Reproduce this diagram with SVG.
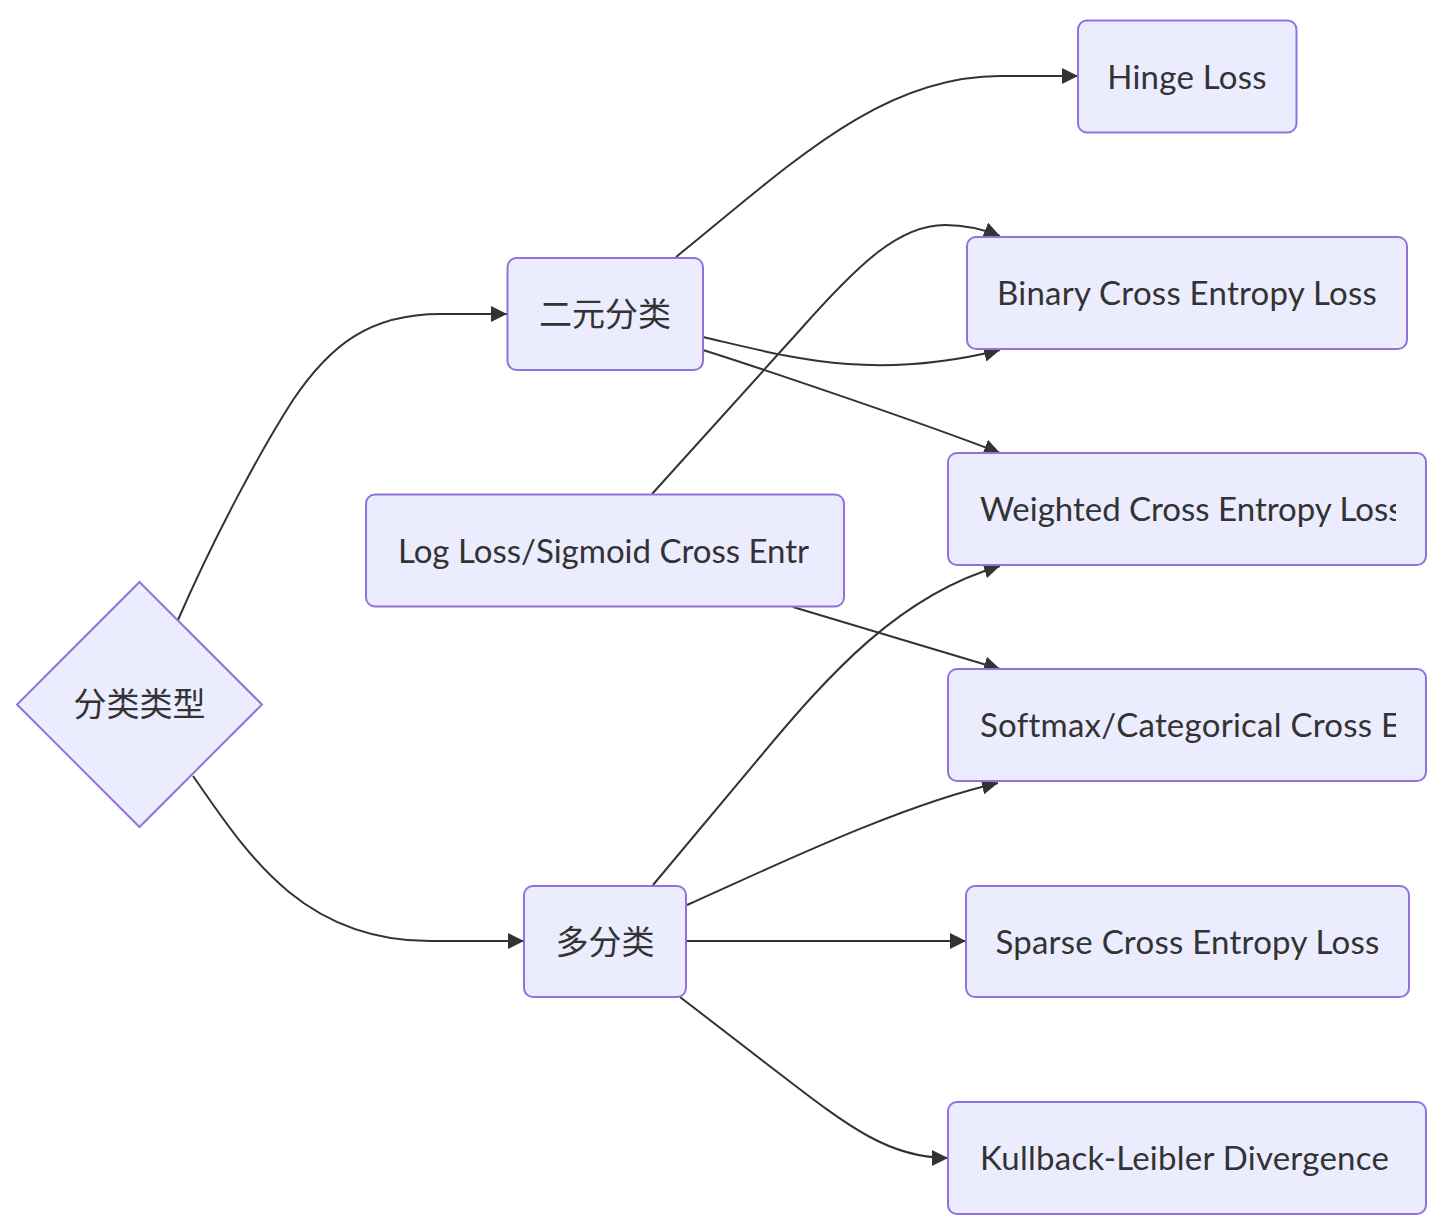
<svg xmlns="http://www.w3.org/2000/svg" width="1452" height="1232" viewBox="0 0 1452 1232">
<style>
.node rect, .node polygon { fill: #ECECFF; stroke: #9370DB; stroke-width: 2; }
.lbl { font-family: Lato, "Liberation Sans", "Noto Sans CJK SC", sans-serif; font-size: 33px; fill: #333333; letter-spacing: 0.25px; }
.cjk { font-family: "Noto Sans CJK SC", "Noto Sans", sans-serif; font-size: 33px; fill: #333333; }
.edge { fill: none; stroke: #333333; stroke-width: 2; marker-end: url(#arrow); }
</style>
<defs>
<marker id="arrow" viewBox="0 0 10 10" refX="10" refY="5" markerUnits="userSpaceOnUse" markerWidth="16" markerHeight="16" orient="auto">
<path d="M0,0 L10,5 L0,10 z" fill="#333333"/>
</marker>
<clipPath id="clipLog"><rect x="398" y="500" width="413" height="100"/></clipPath>
<clipPath id="clipW"><rect x="980" y="460" width="416" height="100"/></clipPath>
<clipPath id="clipS"><rect x="980" y="675" width="416" height="100"/></clipPath>
<clipPath id="clipK"><rect x="980" y="1108" width="416" height="100"/></clipPath>
</defs>
<rect x="0" y="0" width="1452" height="1232" fill="#ffffff"/>
<g id="connectors">
<path class="edge" d="M178,620 C215,535 262,448 293,400 C330,345 370,314 440,314 L507,314"/>
<path class="edge" d="M193,776 C245,850 300,941 430,941 L524,941"/>
<path class="edge" d="M676,257 C790,165 880,76 1000,76 L1078,76"/>
<path class="edge" d="M703,337 C790,357 870,382 1000,350"/>
<path class="edge" d="M703,350 C760,368 920,422 1000,453"/>
<path class="edge" d="M652,494 L800,330 C860,262 900,225 945,225 C965,225 985,230 1000,236"/>
<path class="edge" d="M793,607 L1000,669"/>
<path class="edge" d="M653,885 L760,757 C830,673 900,595 1000,566"/>
<path class="edge" d="M687,905 C770,868 900,805 998,783"/>
<path class="edge" d="M686,941 L966,941"/>
<path class="edge" d="M680,997 L780,1074 C850,1128 890,1158 948,1158"/>
</g>
<g id="node-type" class="node">
<polygon points="139.5,582 262,704.5 139.5,827 17,704.5"/>
<text class="cjk" x="139.5" y="716" text-anchor="middle">分类类型</text>
</g>
<g id="node-binary" class="node">
<rect x="507.5" y="258" width="195.5" height="112" rx="9"/>
<text class="cjk" x="605" y="326" text-anchor="middle">二元分类</text>
</g>
<g id="node-logloss" class="node">
<rect x="366" y="494.5" width="478" height="112" rx="9"/>
<text class="lbl" x="398" y="562.5" style="letter-spacing:0" clip-path="url(#clipLog)">Log Loss/Sigmoid Cross Entr</text>
</g>
<g id="node-multi" class="node">
<rect x="524" y="886" width="162" height="111" rx="9"/>
<text class="cjk" x="605" y="954" text-anchor="middle">多分类</text>
</g>
<g id="node-hinge" class="node">
<rect x="1078" y="20.5" width="218.5" height="112" rx="9"/>
<text class="lbl" x="1187" y="88.5" text-anchor="middle">Hinge Loss</text>
</g>
<g id="node-bce" class="node">
<rect x="967" y="237" width="440" height="112" rx="9"/>
<text class="lbl" x="1187" y="305" text-anchor="middle">Binary Cross Entropy Loss</text>
</g>
<g id="node-wce" class="node">
<rect x="948" y="453" width="478" height="112" rx="9"/>
<text class="lbl" x="980" y="521" style="letter-spacing:0" clip-path="url(#clipW)">Weighted Cross Entropy Loss</text>
</g>
<g id="node-softmax" class="node">
<rect x="948" y="669" width="478" height="112" rx="9"/>
<text class="lbl" x="980" y="737" clip-path="url(#clipS)">Softmax/Categorical Cross E</text>
</g>
<g id="node-sparse" class="node">
<rect x="966" y="886" width="443" height="111" rx="9"/>
<text class="lbl" x="1187.5" y="953.5" text-anchor="middle">Sparse Cross Entropy Loss</text>
</g>
<g id="node-kl" class="node">
<rect x="948" y="1102" width="478" height="112" rx="9"/>
<text class="lbl" x="980" y="1170" clip-path="url(#clipK)">Kullback-Leibler Divergence</text>
</g>
</svg>
